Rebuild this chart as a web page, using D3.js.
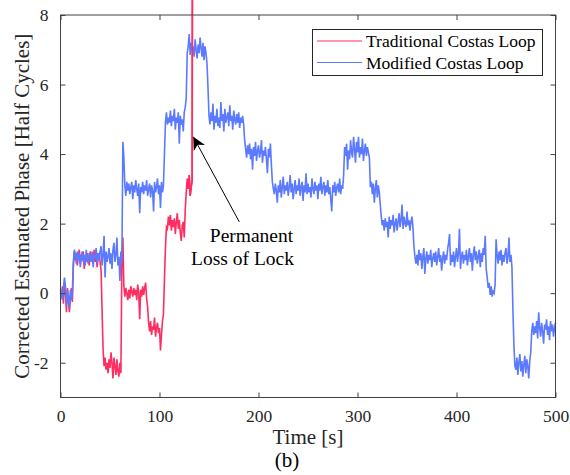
<!DOCTYPE html>
<html>
<head>
<meta charset="utf-8">
<script src="https://cdn.jsdelivr.net/npm/d3@7"></script>
<style>
body { margin: 0; background: #fff; }
svg text { font-family: "Liberation Serif", "Times New Roman", serif !important; }
</style>
</head>
<body>
<svg id="chart"></svg>
<script>
// sample times, 1 s apart
const time = d3.range(0, 501);

// modified Costas loop, t = 0..500
const modified = [
    -0.05, 0.1, -0.2, 0.15, 0.45, 0.2, -0.35, 0.1, -0.1, -0.45,
    0.1, -0.2, 0.05, 0.9, 1.25, 1.1, 0.85, 1.2, 0.95, 1.15,
    0.75, 1.05, 1.2, 0.9, 1.1, 0.8, 1.25, 1.0, 0.85, 1.15,
    1.05, 0.9, 1.2, 0.75, 1.1, 1.0, 1.3, 0.85, 1.15, 0.95,
    1.2, 1.35, 0.8, 1.1, 1.65, 0.45, 1.2, 0.9, 1.05, 1.3,
    0.85, 1.15, 0.7, 1.25, 1.45, 0.9, 1.1, 1.6, 0.8, 1.05,
    0.35, 1.2, 0.9, 4.35, 3.9, 3.1, 2.8, 3.2, 2.95, 3.15,
    2.85, 3.05, 3.2, 2.7, 3.1, 2.9, 3.25, 3.0, 2.8, 3.15,
    2.3, 3.05, 2.9, 3.2, 2.85, 3.1, 2.95, 3.25, 2.8, 3.0,
    3.15, 2.75, 3.1, 2.95, 2.35, 3.2, 2.9, 3.05, 3.3, 2.85,
    3.1, 2.45, 3.2, 2.9, 3.1, 4.0, 4.9, 5.2, 4.85, 5.05,
    4.9, 5.25, 4.8, 5.1, 4.95, 5.3, 4.7, 5.05, 4.9, 5.2,
    4.3, 5.1, 4.85, 5.0, 4.65, 5.2, 5.35, 5.6, 6.9, 7.1,
    7.45, 6.85, 7.2, 6.95, 7.1, 6.8, 7.3, 7.0, 6.75, 7.15,
    6.9, 7.35, 7.05, 6.8, 7.2, 6.7, 7.1, 6.9, 6.6, 5.9,
    5.1, 4.85, 5.2, 4.95, 5.45, 4.7, 5.1, 4.9, 5.3, 4.8,
    5.05, 4.75, 5.5, 4.95, 5.15, 4.65, 5.3, 4.9, 5.05, 5.2,
    4.8, 5.4, 4.95, 5.1, 4.7, 5.25, 5.0, 4.85, 5.15, 4.9,
    5.2, 4.75, 5.05, 4.9, 5.1, 4.85, 4.4, 4.15, 3.9, 4.25,
    4.0, 4.3, 3.85, 4.15, 3.55, 4.2, 3.95, 4.35, 3.8, 4.1,
    4.25, 3.9, 4.05, 4.4, 3.75, 4.1, 3.95, 4.2, 3.85, 3.45,
    4.15, 3.9, 4.3, 3.7, 3.2, 3.0, 2.85, 3.15, 2.95, 2.6,
    3.1, 2.9, 3.25, 2.75, 3.05, 3.35, 2.85, 3.1, 2.95, 3.2,
    2.8, 3.05, 3.4, 2.9, 3.15, 2.7, 3.0, 3.25, 2.85, 3.1,
    2.95, 3.3, 2.8, 3.05, 3.2, 2.65, 3.1, 2.9, 3.45, 2.85,
    3.15, 2.9, 3.05, 2.75, 3.3, 3.0, 2.85, 3.2, 2.95, 3.1,
    2.7, 3.15, 2.95, 3.35, 2.85, 3.05, 3.2, 2.8, 3.1, 2.9,
    3.25, 2.85, 3.05, 2.7, 2.35, 3.1, 2.9, 3.2, 2.8, 3.05,
    3.15, 2.9, 3.3, 2.85, 3.1, 3.0, 3.4, 4.2, 3.95, 4.3,
    3.55, 4.1, 3.85, 4.4, 4.05, 3.9, 4.5, 4.15, 3.75, 4.35,
    4.05, 4.5, 3.9, 4.2, 4.0, 4.45, 3.8, 4.1, 4.3, 3.95,
    4.2, 4.05, 3.9, 3.05, 3.2, 2.85, 3.15, 2.6, 3.0, 3.25,
    2.75, 3.1, 2.9, 2.55, 2.2, 1.95, 2.1, 1.8, 2.15, 1.9,
    2.05, 1.6, 2.2, 1.85, 2.1, 1.95, 2.25, 1.75, 2.0, 2.15,
    1.8, 2.05, 2.3, 1.9, 2.1, 2.55, 1.85, 2.2, 2.0, 1.9,
    2.35, 1.95, 2.1, 1.8, 2.05, 2.2, 1.9, 1.35, 1.05, 0.85,
    1.1, 0.8, 1.25, 0.95, 1.15, 0.7, 1.05, 1.3, 0.55, 1.0,
    1.2, 0.85, 1.1, 0.95, 1.25, 0.75, 1.0, 1.15, 0.9, 1.2,
    0.8, 1.05, 1.3, 0.9, 1.1, 0.65, 1.0, 1.2, 0.85, 1.1,
    0.95, 1.25, 1.45, 1.7, 0.8, 1.1, 0.9, 1.2, 0.75, 1.05,
    1.3, 0.9, 1.15, 1.85, 0.7, 1.05, 1.2, 0.85, 1.1, 0.95,
    1.25, 0.8, 1.05, 1.3, 0.9, 1.15, 0.65, 1.1, 1.35, 0.95,
    1.2, 0.85, 1.05, 1.25, 0.75, 1.15, 0.9, 1.3, 1.1, 1.65,
    0.7, 0.45, 0.15, 0.3, -0.05, 0.2, -0.1, 0.05, 0.0, 0.25,
    1.55, 1.1, 0.85, 1.2, 0.95, 1.25, 0.8, 1.1, 0.9, 1.15,
    1.3, 0.85, 1.05, 1.6, 0.9, 1.1, 0.75, -0.5, -1.5, -2.1,
    -2.2, -1.85, -2.35, -2.0, -1.75, -2.25, -1.95, -2.4, -2.05, -1.8,
    -2.3, -1.9, -2.1, -2.45, -1.95, -1.7, -1.1, -0.85, -1.2, -0.95,
    -1.15, -0.8, -1.3, -0.55, -1.0, -1.25, -0.85, -1.1, -1.45, -0.9,
    -1.05, -0.75, -1.2, -0.95, -1.35, -0.8, -1.1, -0.9, -1.25, -1.0,
    -0.85
];

// traditional Costas loop, t = 0..134 (runs off the top at loss of lock)
const traditional = [
    0.1, -0.15, 0.2, -0.3, 0.3, 0.05, -0.55, 0.15, -0.2, -0.55,
    -0.1, 0.15, -0.25, 0.8, 1.2, 0.95, 1.15, 0.8, 1.05, 1.25,
    0.85, 1.1, 0.95, 1.2, 0.7, 1.05, 0.9, 1.15, 1.0, 0.8,
    1.2, 0.95, 1.05, 0.85, 1.25, 0.9, 1.1, 0.75, 1.0, 1.15,
    0.9, 0.65, -0.5, -1.6, -2.1, -1.85, -2.2, -2.0, -2.3, -1.9,
    -2.15, -1.7, -2.0, -2.45, -1.85, -2.1, -2.35, -1.9, -2.25, -2.4,
    -2.0, -2.3, 0.9, 1.6, 0.2, -0.1, 0.15, 0.0, -0.2, 0.1,
    -0.15, 0.2, 0.05, -0.1, 0.15, -0.05, 0.1, -0.2, 0.25, 0.0,
    -0.75, 0.1, -0.1, 0.2, -0.05, 0.15, 0.3, -0.15, -0.4, -0.85,
    -1.1, -0.8, -1.2, -0.95, -1.05, -0.7, -1.25, -1.0, -0.85, -1.15,
    -1.0, -1.65, -1.2, -0.8, -0.6, 0.4, 1.3, 1.9, 1.85, 2.2,
    1.95, 2.25, 1.8, 2.1, 1.9, 2.15, 1.7, 2.05, 2.3, 1.85,
    2.1, 1.75, 1.5, 1.95, 2.05, 1.6, 2.4, 2.9, 3.3, 3.0,
    3.4, 2.8, 3.05, 3.25, 30
];

const xTicks = [0, 100, 200, 300, 400, 500];
const yTicks = [-2, 0, 2, 4, 6, 8];
const seriesNames = ["Traditional Costas Loop", "Modified Costas Loop"];
const seriesColors = ["#ff2d60", "#5b7aff"];

class PhasePlot {

    constructor( config ) {
        this.config = {
            parent: config.parent,
            width: config.width || 570,
            height: config.height || 475,
            margin: config.margin || {top:15, right:14.5, bottom:77.5, left:60.5}
        }
        this.init();
    }

    init() {
        let self = this;

        self.svg = d3.select( self.config.parent )
            .attr('width', self.config.width)
            .attr('height', self.config.height);

        self.inner_width = self.config.width - self.config.margin.left - self.config.margin.right;
        self.inner_height = self.config.height - self.config.margin.top - self.config.margin.bottom;

        self.xscale = d3.scaleLinear()
            .domain( [0, 500] )
            .range( [self.config.margin.left, self.config.margin.left + self.inner_width] );

        self.yscale = d3.scaleLinear()
            .domain( [-3, 8] )
            .range( [self.config.margin.top + self.inner_height, self.config.margin.top] );
    }

    render() {
        let self = this;
        const left = self.config.margin.left;
        const top = self.config.margin.top;
        const bottom = top + self.inner_height;
        const right = left + self.inner_width;
        const lw = 1.6;

        const line = d3.line()
            .x( (d, i) => self.xscale( time[i] ) )
            .y( d => self.yscale( d ) );

        self.svg.append('path')
            .attr('d', line(traditional))
            .attr('fill', 'none')
            .attr('stroke', seriesColors[0])
            .attr('stroke-width', lw);

        self.svg.append('path')
            .attr('d', line(modified))
            .attr('fill', 'none')
            .attr('stroke', seriesColors[1])
            .attr('stroke-width', lw);

        // the red line leaving the axes is drawn over the blue plateau
        const tail = d3.line()
            .x( (d, i) => self.xscale( time[i + 130] ) )
            .y( d => self.yscale( d ) );
        self.svg.append('path')
            .attr('d', tail(traditional.slice(130)))
            .attr('fill', 'none')
            .attr('stroke', seriesColors[0])
            .attr('stroke-width', lw);

        // axes, ticks point inwards on all four sides
        const fmt = d => String(d);
        const xaxis_group = self.svg.append('g')
            .attr('transform', `translate(0, ${bottom})`)
            .call( d3.axisBottom(self.xscale).tickValues(xTicks).tickFormat(fmt).tickSizeInner(-5).tickSizeOuter(0).tickPadding(12) );
        const xtop = self.svg.append('g')
            .attr('transform', `translate(0, ${top})`)
            .call( d3.axisTop(self.xscale).tickValues(xTicks).tickFormat('').tickSizeInner(-5).tickSizeOuter(0) );
        const yaxis_group = self.svg.append('g')
            .attr('transform', `translate(${left}, 0)`)
            .call( d3.axisLeft(self.yscale).tickValues(yTicks).tickFormat(fmt).tickSizeInner(-5).tickSizeOuter(0).tickPadding(12) );
        const yright = self.svg.append('g')
            .attr('transform', `translate(${right}, 0)`)
            .call( d3.axisRight(self.yscale).tickValues(yTicks).tickFormat('').tickSizeInner(-5).tickSizeOuter(0) );

        [xaxis_group, xtop, yaxis_group, yright].forEach(g => {
            g.attr('font-family', null);
            g.select('.domain').remove();
            g.selectAll('line').attr('stroke', '#404040');
            g.selectAll('text')
                .attr('fill', '#262626')
                .attr('font-size', '17.5px');
        });

        self.svg.append('rect')
            .attr('x', left)
            .attr('y', top)
            .attr('width', self.inner_width)
            .attr('height', self.inner_height)
            .attr('fill', 'none')
            .attr('stroke', '#404040')
            .attr('stroke-width', 1);

        // axis labels
        self.svg.append('text')
            .attr('x', (left + right) / 2)
            .attr('y', 444)
            .attr('text-anchor', 'middle')
            .attr('font-size', '21px')
            .attr('fill', '#262626')
            .text('Time [s]');

        self.svg.append('text')
            .attr('x', -(top + bottom) / 2)
            .attr('y', 29)
            .attr('transform', 'rotate(-90)')
            .attr('text-anchor', 'middle')
            .attr('font-size', '21px')
            .attr('fill', '#262626')
            .text('Corrected Estimated Phase [Half Cycles]');

        self.svg.append('text')
            .attr('x', 287)
            .attr('y', 467)
            .attr('text-anchor', 'middle')
            .attr('font-size', '21px')
            .attr('fill', '#000')
            .text('(b)');

        // legend
        const legend = self.svg.append('g');
        legend.append('rect')
            .attr('x', 312.5).attr('y', 29.5)
            .attr('width', 230).attr('height', 46)
            .attr('fill', '#fff')
            .attr('stroke', '#262626');
        seriesNames.forEach((name, i) => {
            const ly = 41 + i * 21.5;
            legend.append('line')
                .attr('x1', 317).attr('x2', 362)
                .attr('y1', ly).attr('y2', ly)
                .attr('stroke', seriesColors[i])
                .attr('stroke-width', 1.2);
            legend.append('text')
                .attr('x', 366).attr('y', ly + 6)
                .attr('font-size', '17.5px')
                .attr('fill', '#000')
                .text(name);
        });

        // annotation arrow
        const defs = self.svg.append('defs');
        defs.append('marker')
            .attr('id', 'head')
            .attr('viewBox', '0 0 10 10')
            .attr('refX', 10).attr('refY', 5)
            .attr('markerWidth', 13).attr('markerHeight', 13)
            .attr('markerUnits', 'userSpaceOnUse')
            .attr('orient', 'auto')
            .append('path')
            .attr('d', 'M0,0 L10,5 L0,10 L3,5 Z')
            .attr('fill', '#000');

        self.svg.append('line')
            .attr('x1', self.xscale(180.6)).attr('y1', self.yscale(2.05))
            .attr('x2', self.xscale(134.1)).attr('y2', self.yscale(4.5))
            .attr('stroke', '#000')
            .attr('stroke-width', 1)
            .attr('marker-end', 'url(#head)');

        const note = self.svg.append('text')
            .attr('text-anchor', 'middle')
            .attr('font-size', '19.5px')
            .attr('fill', '#000');
        note.append('tspan').attr('x', 251.5).attr('y', 242).text('Permanent');
        note.append('tspan').attr('x', 242.5).attr('y', 265).text('Loss of Lock');
    }
}

const plot = new PhasePlot({ parent: '#chart' });
plot.render();
</script>
</body>
</html>
